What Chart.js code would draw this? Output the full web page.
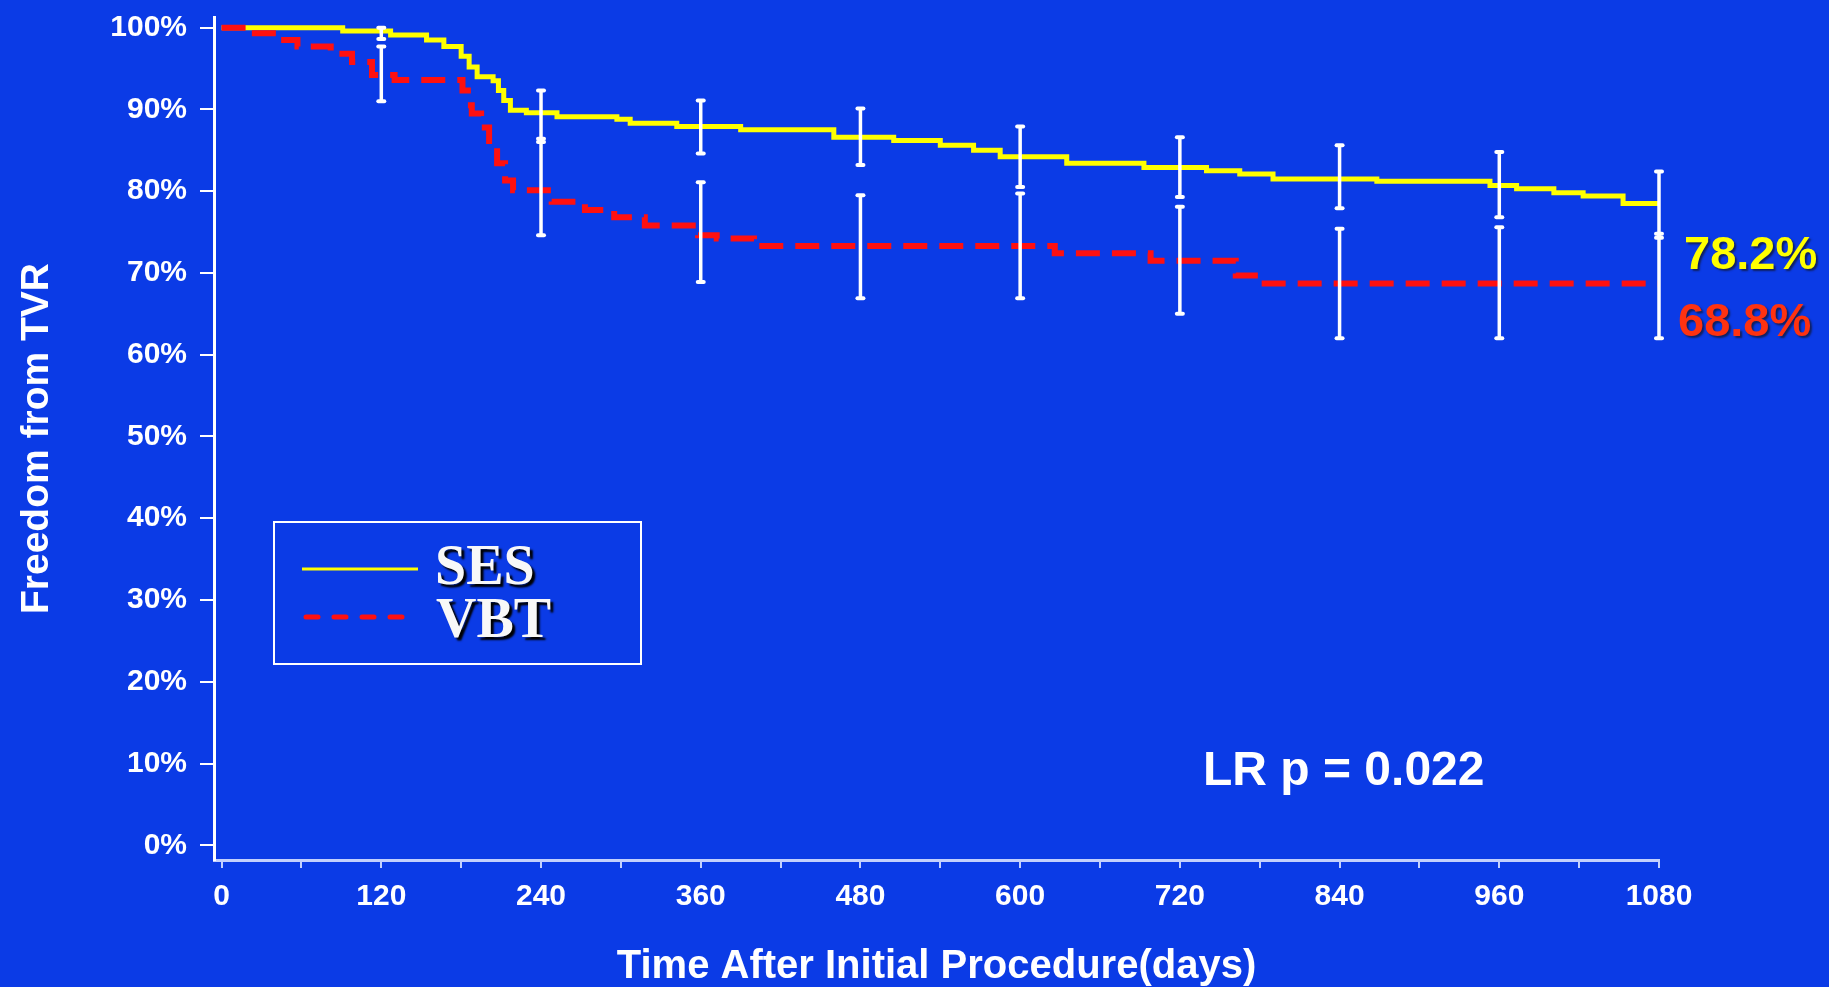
<!DOCTYPE html>
<html lang="en">
<head>
  <meta charset="UTF-8" />
  <title>Freedom from TVR - SES vs VBT</title>
  <style>
    body {
      margin: 0;
      background: #0b3be6;
      overflow: hidden;
      font-family: "Liberation Sans", Arial, sans-serif;
    }
    #wrap {
      position: relative;
      width: 1829px;
      height: 987px;
    }
    #km { position: absolute; left: 0; top: 0; }
    .note {
      position: absolute;
      line-height: 1;
      white-space: nowrap;
      font-weight: bold;
    }
    #legendBox {
      position: absolute;
      left: 273px;
      top: 521px;
      width: 369px;
      height: 144px;
      box-sizing: border-box;
      border: 2px solid #fff;
    }
    .legendText {
      position: absolute;
      line-height: 1;
      font-family: "Liberation Serif", "Times New Roman", serif;
      font-weight: bold;
      font-size: 56px;
      color: #f8f8f8;
      text-shadow: 3px 3px 2px #000;
    }
  </style>
  <script src="https://cdn.jsdelivr.net/npm/chart.js"></script>
</head>
<body>
  <div id="wrap">
    <canvas id="km" width="1829" height="987"></canvas>

    <div id="legendBox"></div>
    <svg style="position:absolute;left:0;top:0" width="1829" height="987">
      <line x1="302" y1="569" x2="418" y2="569" stroke="#ffff00" stroke-width="3" />
      <line x1="306" y1="617" x2="408" y2="617" stroke="#ff1010" stroke-width="5"
            stroke-dasharray="12 16" stroke-linecap="round" />
    </svg>
    <div class="legendText" style="left:435px;top:537px">SES</div>
    <div class="legendText" style="left:436px;top:590px">VBT</div>

    <div class="note" style="left:1203px;top:745px;font-size:48px;color:#fff">LR p = 0.022</div>
    <div class="note" style="left:1684px;top:229px;font-size:47px;color:#ffff00;text-shadow:2px 2px 2px #102060">78.2%</div>
    <div class="note" style="left:1678px;top:296px;font-size:47px;color:#ff3210;text-shadow:2px 2px 2px #102060">68.8%</div>
  </div>

  <script>
    // Kaplan-Meier steps (day, % free from TVR)
    const sesDays = [0, 91, 127, 154, 167, 180, 186, 192, 204, 208, 212, 217, 229, 252, 297, 307, 342, 390, 460, 505, 540, 565, 585, 635, 693, 740, 765, 790, 868, 953, 973, 1001, 1023, 1053, 1080];
    const sesSurvival = [100, 99.6, 99.1, 98.5, 97.7, 96.5, 95.2, 94.0, 93.5, 92.3, 91.1, 89.9, 89.6, 89.1, 88.8, 88.3, 87.9, 87.5, 86.6, 86.2, 85.6, 85.0, 84.2, 83.4, 82.9, 82.5, 82.1, 81.5, 81.2, 80.7, 80.3, 79.8, 79.4, 78.5, 78.5];

    const vbtDays = [0, 20, 47, 57, 82, 98, 113, 130, 181, 185, 188, 195, 201, 207, 213, 219, 248, 273, 295, 318, 358, 372, 400, 626, 698, 762, 781, 1080];
    const vbtSurvival = [100, 99.3, 98.5, 97.7, 96.8, 95.8, 94.2, 93.6, 92.3, 90.5, 89.5, 87.8, 85.4, 83.4, 81.3, 80.1, 78.7, 77.7, 76.8, 75.8, 74.6, 74.2, 73.3, 72.4, 71.5, 69.7, 68.7, 68.7];

    // confidence intervals at every 120 days
    const ciDays = [120, 240, 360, 480, 600, 720, 840, 960, 1080];
    const sesLower = [98.6, 86.4, 84.6, 83.2, 80.5, 79.3, 77.9, 76.8, 74.3];
    const sesUpper = [100, 92.3, 91.1, 90.1, 87.9, 86.6, 85.6, 84.8, 82.4];
    const vbtLower = [91.0, 74.6, 68.9, 66.9, 66.9, 65.0, 62.0, 62.0, 62.0];
    const vbtUpper = [97.7, 86.0, 81.1, 79.5, 79.7, 78.1, 75.4, 75.6, 74.8];

    // axis ticks
    const dayTicks = [0, 60, 120, 180, 240, 300, 360, 420, 480, 540, 600, 660, 720, 780, 840, 900, 960, 1020, 1080];
    const pctTicks = [0, 10, 20, 30, 40, 50, 60, 70, 80, 90, 100];

    const toPoints = (xs, ys) => xs.map((x, i) => ({ x: x, y: ys[i] }));

    const errorBars = {
      id: 'errorBars',
      afterDatasetsDraw(chart) {
        const { ctx, scales: { x, y } } = chart;
        ctx.save();
        ctx.strokeStyle = '#ffffff';
        ciDays.forEach((d, i) => {
          const px = x.getPixelForValue(d);
          [[sesLower[i], sesUpper[i]], [vbtLower[i], vbtUpper[i]]].forEach(([lo, hi]) => {
            const yTop = y.getPixelForValue(hi);
            const yBot = y.getPixelForValue(lo);
            ctx.lineCap = 'butt';
            ctx.lineWidth = 3.5;
            ctx.beginPath();
            ctx.moveTo(px, yTop);
            ctx.lineTo(px, yBot);
            ctx.stroke();
            ctx.lineCap = 'round';
            ctx.lineWidth = 4;
            [yTop, yBot].forEach(py => {
              ctx.beginPath();
              ctx.moveTo(px - 3, py);
              ctx.lineTo(px + 3, py);
              ctx.stroke();
            });
          });
        });
        ctx.restore();
      }
    };

    const tickFont = { family: "'Liberation Sans', Arial, sans-serif", size: 30, weight: 'bold' };
    const titleFont = { family: "'Liberation Sans', Arial, sans-serif", size: 40, weight: 'bold', lineHeight: 1 };

    new Chart(document.getElementById('km').getContext('2d'), {
      type: 'line',
      data: {
        datasets: [{
          label: 'SES',
          data: toPoints(sesDays, sesSurvival),
          borderColor: '#ffff00',
          borderWidth: 5,
          stepped: true,
          pointRadius: 0,
          order: 2
        }, {
          label: 'VBT',
          data: toPoints(vbtDays, vbtSurvival),
          borderColor: '#ff1010',
          borderWidth: 6,
          borderDash: [24, 12],
          stepped: true,
          pointRadius: 0,
          order: 1
        }]
      },
      options: {
        responsive: false,
        animation: false,
        events: [],
        layout: { padding: { left: 0, right: 170, top: 17, bottom: 0 } },
        plugins: {
          legend: { display: false },
          tooltip: { enabled: false }
        },
        scales: {
          x: {
            type: 'linear',
            min: -5.7,
            max: 1080,
            afterBuildTicks: s => { s.ticks = dayTicks.map(v => ({ value: v })); },
            afterFit: s => { s.height = 127; s.paddingLeft = 0; s.paddingRight = 0; },
            ticks: {
              autoSkip: false,
              maxRotation: 0,
              color: '#ffffff',
              font: tickFont,
              padding: 11,
              callback: v => (v % 120 === 0 ? String(v) : '')
            },
            grid: { drawOnChartArea: false, tickLength: 8, color: 'rgba(215,225,255,0.9)', lineWidth: 2 },
            border: { color: 'rgba(215,225,255,0.9)', width: 3 },
            title: {
              display: true,
              text: 'Time After Initial Procedure(days)',
              color: '#ffffff',
              font: titleFont,
              padding: { top: 0, bottom: 0 }
            }
          },
          y: {
            min: -1.8,
            max: 101.3,
            afterBuildTicks: s => { s.ticks = pctTicks.map(v => ({ value: v })); },
            afterFit: s => { s.width = 214; s.paddingTop = 0; s.paddingBottom = 0; },
            ticks: {
              color: '#ffffff',
              font: tickFont,
              padding: 13,
              callback: v => v + '%'
            },
            grid: { drawOnChartArea: false, tickLength: 14, color: '#ffffff', lineWidth: 2 },
            border: { color: '#ffffff', width: 3 },
            title: {
              display: true,
              text: 'Freedom from TVR',
              color: '#ffffff',
              font: { family: "'Liberation Sans', Arial, sans-serif", size: 39, weight: 'bold', lineHeight: 1 },
              padding: { top: 18, bottom: 0 }
            }
          }
        }
      },
      plugins: [errorBars]
    });
  </script>
</body>
</html>
